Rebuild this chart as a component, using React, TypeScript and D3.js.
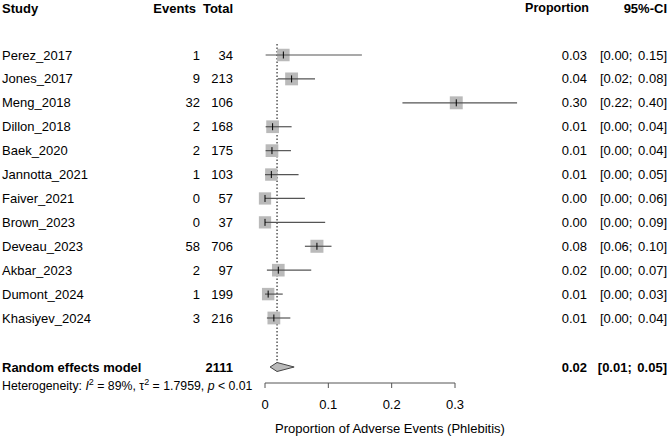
import React from "react";
import * as d3 from "d3";

// study-level data
const studies = [
  "Perez_2017", "Jones_2017", "Meng_2018", "Dillon_2018", "Baek_2020", "Jannotta_2021",
  "Faiver_2021", "Brown_2023", "Deveau_2023", "Akbar_2023", "Dumont_2024", "Khasiyev_2024",
];
const events = [1, 9, 32, 2, 2, 1, 0, 0, 58, 2, 1, 3];
const totals = [34, 213, 106, 168, 175, 103, 57, 37, 706, 97, 199, 216];
const props = [0.029, 0.042, 0.302, 0.012, 0.011, 0.01, 0, 0, 0.082, 0.021, 0.005, 0.014];
const lower = [0.001, 0.02, 0.217, 0.001, 0.001, 0.0, 0, 0, 0.063, 0.003, 0.0, 0.003];
const upper = [0.153, 0.079, 0.398, 0.042, 0.041, 0.053, 0.063, 0.095, 0.105, 0.073, 0.028, 0.04];
const propLabels = ["0.03", "0.04", "0.30", "0.01", "0.01", "0.01", "0.00", "0.00", "0.08", "0.02", "0.01", "0.01"];
const ciLabels = [
  "[0.00; 0.15]", "[0.02; 0.08]", "[0.22; 0.40]", "[0.00; 0.04]", "[0.00; 0.04]", "[0.00; 0.05]",
  "[0.00; 0.06]", "[0.00; 0.09]", "[0.06; 0.10]", "[0.00; 0.07]", "[0.00; 0.03]", "[0.00; 0.04]",
];
// approximate random-effects weights (%) -> square size
const weights = [8.3, 8.8, 8.9, 8.6, 8.6, 8.2, 8.0, 8.0, 9.0, 8.5, 8.2, 8.7];

const pooled = { est: 0.019, lo: 0.008, hi: 0.046, total: 2111, label: "0.02", ci: "[0.01; 0.05]" };
const xTicks = [0, 0.1, 0.2, 0.3];

const W = 669;
const H = 438;
const FONT = "'Liberation Sans', Arial, Helvetica, sans-serif";

export default function App() {
  const x = d3.scaleLinear().domain([0, 0.3]).range([265, 455]);
  const y = d3.scaleLinear().domain([0, studies.length - 1]).range([55, 318]);
  const size = d3.scaleSqrt().domain([0, d3.max(weights) as number]).range([0, 13]);

  const ySum = 367;
  const axisY = 383;
  const diamond = [
    [x(pooled.lo), ySum],
    [x(pooled.est), ySum - 4.5],
    [x(pooled.hi), ySum],
    [x(pooled.est), ySum + 4.5],
  ];

  return (
    <svg
      width={W}
      height={H}
      style={{ position: "absolute", left: 0, top: 0, background: "#fff" }}
      fontFamily={FONT}
      fontSize={13}
    >
      {/* headers */}
      <g fontWeight="bold" dominantBaseline="central">
        <text x={2} y={8}>Study</text>
        <text x={196} y={8} textAnchor="end">Events</text>
        <text x={233} y={8} textAnchor="end">Total</text>
        <text x={589} y={8} textAnchor="end" fontSize={12.5}>Proportion</text>
        <text x={667} y={8} textAnchor="end">95%-CI</text>
      </g>

      {/* reference line at pooled estimate */}
      <line
        x1={x(pooled.est)}
        x2={x(pooled.est)}
        y1={44}
        y2={ySum - 4}
        stroke="#000"
        strokeDasharray="1.5,2"
        strokeWidth={1}
      />

      {studies.map((s, i) => {
        const cy = y(i);
        const sz = size(weights[i]);
        return (
          <g key={s}>
            <text x={2} y={cy} dominantBaseline="central">{s}</text>
            <text x={200} y={cy} dominantBaseline="central" textAnchor="end">{events[i]}</text>
            <text x={233} y={cy} dominantBaseline="central" textAnchor="end">{totals[i]}</text>
            <rect x={x(props[i]) - sz / 2} y={cy - sz / 2} width={sz} height={sz} fill="#bababa" />
            <line x1={x(lower[i])} x2={x(upper[i])} y1={cy} y2={cy} stroke="#555" strokeWidth={1.2} />
            <line x1={x(props[i])} x2={x(props[i])} y1={cy - 3.5} y2={cy + 3.5} stroke="#000" strokeWidth={1} />
            <text x={587} y={cy} dominantBaseline="central" textAnchor="end">{propLabels[i]}</text>
            <text x={667} y={cy} dominantBaseline="central" textAnchor="end" wordSpacing={2}>{ciLabels[i]}</text>
          </g>
        );
      })}

      {/* pooled row */}
      <g fontWeight="bold" dominantBaseline="central">
        <text x={2} y={ySum}>Random effects model</text>
        <text x={233} y={ySum} textAnchor="end">{pooled.total}</text>
        <text x={587} y={ySum} textAnchor="end">{pooled.label}</text>
        <text x={667} y={ySum} textAnchor="end" wordSpacing={2}>{pooled.ci}</text>
      </g>
      <polygon points={diamond.map(p => p.join(",")).join(" ")} fill="#bababa" stroke="#444" strokeWidth={1} />

      {/* heterogeneity */}
      <text x={2} y={390} fontSize={12.3}>
        Heterogeneity: <tspan fontStyle="italic">I</tspan>
        <tspan dy={-5} fontSize={9}>2</tspan>
        <tspan dy={5}> = 89%, τ</tspan>
        <tspan dy={-5} fontSize={9}>2</tspan>
        <tspan dy={5}> = 1.7959, </tspan>
        <tspan fontStyle="italic">p</tspan> &lt; 0.01
      </text>

      {/* x axis */}
      <g stroke="#555" strokeWidth={1}>
        <line x1={x(0)} x2={x(0.3)} y1={axisY} y2={axisY} />
        {xTicks.map(t => (
          <line key={t} x1={x(t)} x2={x(t)} y1={axisY} y2={axisY + 5} />
        ))}
      </g>
      {xTicks.map(t => (
        <text key={t} x={x(t)} y={404} textAnchor="middle" dominantBaseline="central">
          {t === 0 ? "0" : d3.format(".1f")(t)}
        </text>
      ))}
      <text x={390} y={428} textAnchor="middle" dominantBaseline="central">
        Proportion of Adverse Events (Phlebitis)
      </text>
    </svg>
  );
}
